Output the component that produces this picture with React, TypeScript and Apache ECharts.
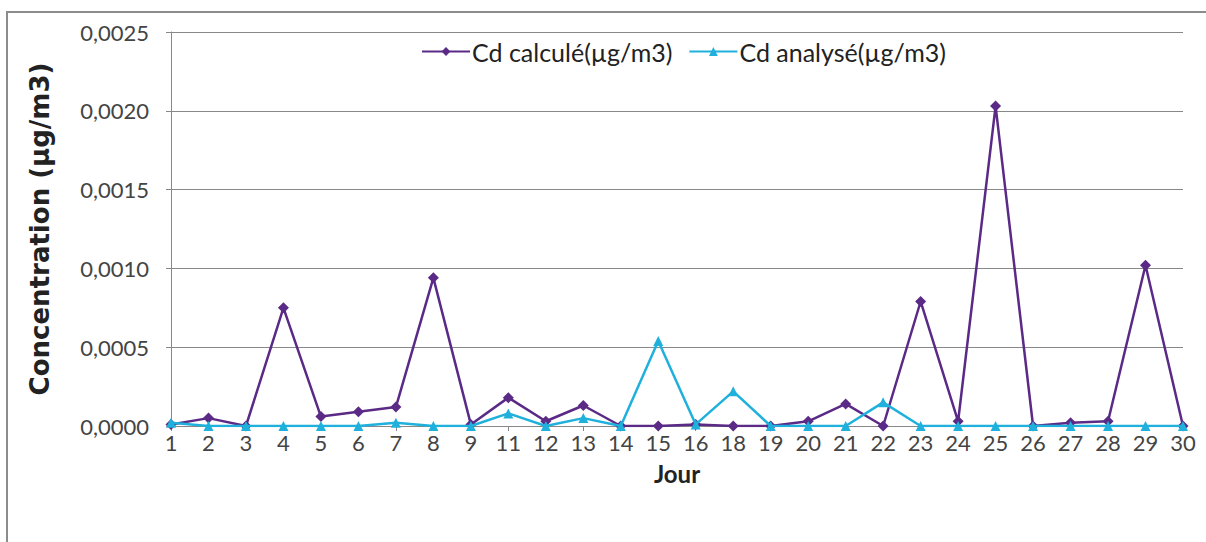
import React, { useEffect, useRef } from "react";
import * as echarts from "echarts";

const days = ["1","2","3","4","5","6","7","8","9","11","12","13","14","15","16","18","19","20","21","22","23","24","25","26","27","28","29","30"];
const cdCalcule = [0.00001,0.00005,0.0,0.00075,0.00006,0.00009,0.00012,0.00094,0.00001,0.00018,0.00003,0.00013,0.0,0.0,0.00001,0.0,0.0,0.00003,0.00014,0.0,0.00079,0.00003,0.00203,0.0,0.00002,0.00003,0.00102,0.0];
const cdAnalyse = [0.00002,0.0,0.0,0.0,0.0,0.0,0.00002,0.0,0.0,0.00008,0.0,0.00005,0.0,0.00054,0.00001,0.00022,0.0,0.0,0.0,0.00015,0.0,0.0,0.0,0.0,0.0,0.0,0.0,0.0];
const seriesNames = ["Cd calculé(µg/m3)", "Cd analysé(µg/m3)"];

const FONT = "Lato, 'Open Sans', sans-serif";

export default function App() {
  const ref = useRef<HTMLDivElement>(null);
  useEffect(() => {
    if (!ref.current) return;
    const chart = echarts.init(ref.current, null, { renderer: "svg" });
    chart.setOption({
      animation: false,
      backgroundColor: "#ffffff",
      graphic: [
        {
          type: "rect",
          shape: { x: 7, y: 12, width: 1215, height: 545 },
          style: { fill: "none", stroke: "#8c8c8c", lineWidth: 2 },
          silent: true,
        },
      ],
      legend: {
        top: 34,
        left: 416,
        itemWidth: 48,
        itemHeight: 11,
        itemGap: 16,
        textStyle: { fontFamily: FONT, fontSize: 25, color: "#222", padding: [0, 0, 0, -3] },
        data: seriesNames,
      },
      grid: { left: 171, right: 23, top: 32, bottom: 116 },
      xAxis: {
        type: "category",
        data: days,
        boundaryGap: false,
        name: "Jour",
        nameLocation: "middle",
        nameGap: 35,
        nameTextStyle: { fontFamily: FONT, fontSize: 24, fontWeight: "bold", color: "#222" },
        axisLine: { lineStyle: { color: "#888", width: 1 } },
        axisTick: { show: true, alignWithLabel: true, length: 5, lineStyle: { color: "#888" } },
        axisLabel: { fontFamily: FONT, fontSize: 22, color: "#444", margin: 5, interval: 0 },
      },
      yAxis: {
        type: "value",
        min: 0,
        max: 0.0025,
        interval: 0.0005,
        name: "Concentration (µg/m3)",
        nameLocation: "middle",
        nameRotate: 90,
        nameGap: 118,
        nameTextStyle: { fontFamily: "'DejaVu Sans', sans-serif", fontSize: 26, fontWeight: "bold", color: "#222" },
        axisLine: { show: true, lineStyle: { color: "#888", width: 1 } },
        axisTick: { show: true, length: 5, lineStyle: { color: "#888" } },
        axisLabel: {
          fontFamily: FONT,
          fontSize: 22,
          color: "#444",
          margin: 22,
          formatter: (v: number) => v.toFixed(4).replace(".", ","),
        },
        splitLine: { show: true, lineStyle: { color: "#888", width: 1 } },
      },
      series: [
        {
          name: seriesNames[0],
          type: "line",
          data: cdCalcule,
          symbol: "diamond",
          symbolSize: 11,
          lineStyle: { color: "#5a2a86", width: 2.5 },
          itemStyle: { color: "#5a2a86" },
          z: 2,
        },
        {
          name: seriesNames[1],
          type: "line",
          data: cdAnalyse,
          symbol: "triangle",
          symbolSize: 10,
          lineStyle: { color: "#1fb0dc", width: 2.5 },
          itemStyle: { color: "#1fb0dc" },
          z: 3,
        },
      ],
    });
    return () => chart.dispose();
  }, []);
  return (
    <div
      ref={ref}
      style={{ position: "absolute", left: 0, top: 0, width: 1206, height: 542 }}
    />
  );
}
